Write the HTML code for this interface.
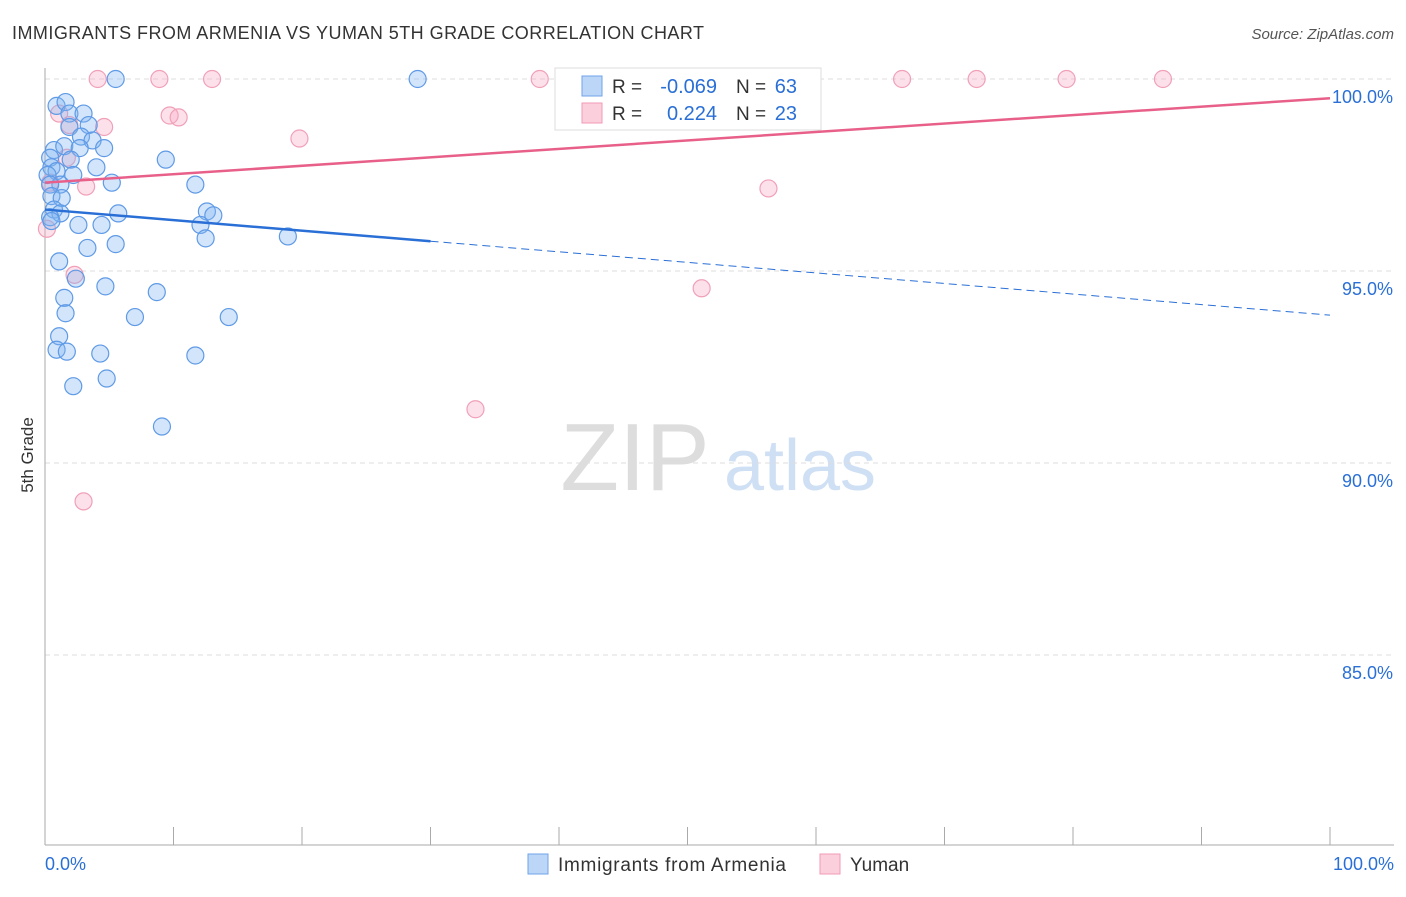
<!DOCTYPE html>
<html><head><meta charset="utf-8"><style>
body{margin:0;background:#fff;font-family:"Liberation Sans",sans-serif}
svg text{font-family:"Liberation Sans",sans-serif}
</style></head><body>
<svg id="c" width="1406" height="892" xmlns="http://www.w3.org/2000/svg">
<text x="12" y="39" font-size="18" fill="#333" textLength="692">IMMIGRANTS FROM ARMENIA VS YUMAN 5TH GRADE CORRELATION CHART</text>
<text x="1394" y="39" font-size="15" fill="#555" font-style="italic" text-anchor="end">Source: ZipAtlas.com</text>
<text x="33" y="455" font-size="17" fill="#333" text-anchor="middle" transform="rotate(-90 33 455)">5th Grade</text>
<g><text x="635" y="490" font-size="96" fill="#ddd" font-family="Liberation Serif" text-anchor="middle">ZIP</text><text x="800" y="490" font-size="72" fill="#cfe0f5" text-anchor="middle">atlas</text></g>
<g id="grid"></g><g id="axes"></g><g id="pts"></g><g id="lines"></g>
<g>
<rect x="555" y="68" width="266" height="62" fill="#fff" stroke="#ddd"/>
<rect x="582" y="76" width="20" height="20" fill="#bcd6f7" stroke="#6fa3e8"/>
<rect x="582" y="103" width="20" height="20" fill="#fbd0dc" stroke="#f09ab4"/>
<text x="612" y="93" font-size="19" fill="#333">R =</text>
<text x="717" y="93" font-size="20" fill="#2a6fd6" text-anchor="end">-0.069</text>
<text x="736" y="93" font-size="19" fill="#333">N =</text>
<text x="797" y="93" font-size="20" fill="#2a6fd6" text-anchor="end">63</text>
<text x="612" y="120" font-size="19" fill="#333">R =</text>
<text x="717" y="120" font-size="20" fill="#2a6fd6" text-anchor="end">0.224</text>
<text x="736" y="120" font-size="19" fill="#333">N =</text>
<text x="797" y="120" font-size="20" fill="#2a6fd6" text-anchor="end">23</text>
</g>
<g>
<rect x="528" y="854" width="20" height="20" fill="#bcd6f7" stroke="#6fa3e8"/>
<text x="558" y="871" font-size="19" fill="#333" textLength="228">Immigrants from Armenia</text>
<rect x="820" y="854" width="20" height="20" fill="#fbd0dc" stroke="#f09ab4"/>
<text x="850" y="871" font-size="19" fill="#333">Yuman</text>
</g>
</svg>
<script>
const yTicks=[100,95,90,85];
const yTickLabels=["100.0%","95.0%","90.0%","85.0%"];
const xEndLabels=["0.0%","100.0%"];
const blueX=[5.5,29.0,0.9,1.6,1.9,3.0,1.9,3.4,2.8,3.7,0.7,1.5,2.7,4.6,9.4,2.0,0.4,4.0,0.5,0.9,2.2,0.2,5.2,11.7,1.2,0.4,0.5,1.3,0.7,5.7,12.6,13.1,1.2,0.4,0.5,2.6,4.4,12.1,12.5,18.9,3.3,5.5,1.1,2.4,4.7,8.7,1.5,1.6,7.0,14.3,1.1,0.9,1.7,4.3,11.7,4.8,2.2,9.1];
const blueY=[100,100,99.3,99.4,99.1,99.1,98.75,98.8,98.5,98.4,98.15,98.25,98.2,98.2,97.9,97.9,97.95,97.7,97.7,97.6,97.5,97.5,97.3,97.25,97.25,97.25,96.95,96.9,96.6,96.5,96.55,96.45,96.5,96.4,96.3,96.2,96.2,96.2,95.85,95.9,95.6,95.7,95.25,94.8,94.6,94.45,94.3,93.9,93.8,93.8,93.3,92.95,92.9,92.85,92.8,92.2,92.0,90.95];
const pinkX=[4.1,8.9,13.0,38.5,66.7,72.5,79.5,87.0,1.1,9.7,10.4,4.6,1.9,19.8,1.7,3.2,56.3,0.15,2.3,51.1,33.5,3.0,0.4];
const pinkY=[100,100,100,100,100,100,100,100,99.1,99.05,99.0,98.75,98.8,98.45,97.95,97.2,97.15,96.1,94.9,94.55,91.4,89.0,97.3];
const blueTrend=[96.6,93.85];
const pinkTrend=[97.3,99.5];
const NS="http://www.w3.org/2000/svg";
const X=v=>45+v*12.85, Y=v=>79+(100-v)*38.4;
function mk(t,a,p){const e=document.createElementNS(NS,t);for(const k in a)e.setAttribute(k,a[k]);p.appendChild(e);return e;}
const grid=document.getElementById('grid'),axes=document.getElementById('axes'),pts=document.getElementById('pts'),lines=document.getElementById('lines');
yTicks.forEach((t,i)=>{
 const l=mk('line',{x1:45,x2:1394,y1:Y(t),y2:Y(t),stroke:'#ddd','stroke-dasharray':'5,4'},grid);
 
 
 const tx=mk('text',{x:1393,y:Y(t)+24,'font-size':18,fill:'#2a6fd6','text-anchor':'end'},axes);
 tx.textContent=yTickLabels[i];
 
 
});
const ya=mk('line',{x1:45,x2:45,y1:68,y2:845,stroke:'#aaa'},axes);


const xa=mk('line',{x1:45,x2:1394,y1:845,y2:845,stroke:'#aaa'},axes);


for(let i=0;i<=10;i++){const tk=mk('line',{x1:X(i*10),x2:X(i*10),y1:827,y2:845,stroke:'#aaa'},axes);
 
 }
[[0,'start',45],[1,'end',1394]].forEach(([i,a,x])=>{const t=mk('text',{x:x,y:870,'font-size':18,fill:'#2a6fd6','text-anchor':a},axes);t.textContent=xEndLabels[i];
 
 });
pinkX.forEach((x,i)=>{const c=mk('circle',{cx:X(x),cy:Y(pinkY[i]),r:8.5,fill:'rgba(248,170,195,0.35)',stroke:'#f0a0b8','stroke-width':1.2},pts);
 
 });
blueX.forEach((x,i)=>{const c=mk('circle',{cx:X(x),cy:Y(blueY[i]),r:8.5,fill:'rgba(130,180,240,0.35)',stroke:'#5f9ae6','stroke-width':1.2},pts);
 
 });
const by=x=>blueTrend[0]+(blueTrend[1]-blueTrend[0])*x/100;
const b1=mk('line',{x1:X(0),y1:Y(by(0)),x2:X(30),y2:Y(by(30)),stroke:'#2a6fd6','stroke-width':2.5},lines);


const b2=mk('line',{x1:X(30),y1:Y(by(30)),x2:X(100),y2:Y(by(100)),stroke:'#2a6fd6','stroke-width':1,'stroke-dasharray':'8,5'},lines);


const p1=mk('line',{x1:X(0),y1:Y(pinkTrend[0]),x2:X(100),y2:Y(pinkTrend[1]),stroke:'#e8608a','stroke-width':2.5},lines);


</script>
</body></html>
